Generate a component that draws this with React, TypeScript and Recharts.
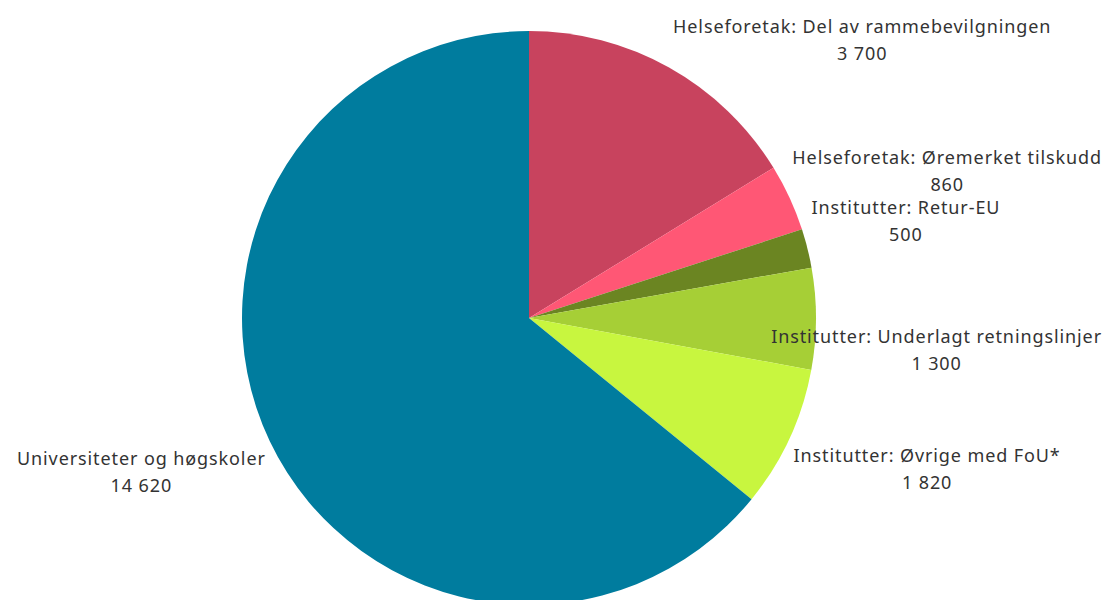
import React from 'react';
import { PieChart, Pie, Cell } from 'recharts';

const categories = [
  'Helseforetak: Del av rammebevilgningen',
  'Helseforetak: Øremerket tilskudd',
  'Institutter: Retur-EU',
  'Institutter: Underlagt retningslinjer',
  'Institutter: Øvrige med FoU*',
  'Universiteter og høgskoler',
];
const amounts = [3700, 860, 500, 1300, 1820, 14620];
const colors = ['#C8435E', '#FF5775', '#6B8522', '#A6CF36', '#C8F63F', '#007C9E'];

const data = categories.map((name, i) => ({ name, value: amounts[i] }));

const WIDTH = 1105;
const HEIGHT = 600;
const FONT = '18px "Noto Sans", sans-serif';
const SPACING = 0.9;
const RAD = Math.PI / 180;

let ctx: CanvasRenderingContext2D | null = null;
const measure = (text: string) => {
  if (!ctx) {
    ctx = document.createElement('canvas').getContext('2d');
  }
  if (!ctx) return text.length * 10;
  ctx.font = FONT;
  return ctx.measureText(text).width + text.length * SPACING;
};

const fmt = (v: number) => String(v).replace(/\B(?=(\d{3})+(?!\d))/g, ' ');

// Tableau-style labels: the text block starts at the arc point, outward
const SliceLabel = (props: any) => {
  const { cx, cy, midAngle, outerRadius, name, value } = props;
  const ax = cx + outerRadius * Math.cos(-midAngle * RAD);
  const ay = cy + outerRadius * Math.sin(-midAngle * RAD);
  const w = Math.max(measure(name), measure(fmt(value)));
  let mid;
  if (ax >= cx) {
    let left = ax + 4;
    if (left + w > WIDTH - 3) left = WIDTH - 3 - w;
    mid = left + w / 2;
  } else {
    let right = ax - 4;
    if (right - w < 3) right = 3 + w;
    mid = right - w / 2;
  }
  const y1 = ay < cy ? ay - 41 : ay + 17;
  const style = { font: FONT, letterSpacing: SPACING };
  return (
    <g>
      <text x={mid} y={y1} textAnchor="middle" dominantBaseline="central" fill="#333" style={style}>
        {name}
      </text>
      <text x={mid} y={y1 + 27} textAnchor="middle" dominantBaseline="central" fill="#333" style={style}>
        {fmt(value)}
      </text>
    </g>
  );
};

export default function App() {
  return (
    <div style={{ position: 'absolute', left: 0, top: 0, width: WIDTH, height: HEIGHT, background: '#fff' }}>
      <PieChart width={WIDTH} height={HEIGHT} margin={{ top: 0, right: 0, bottom: 0, left: 0 }}>
        <Pie
          data={data}
          dataKey="value"
          nameKey="name"
          cx={529}
          cy={318}
          outerRadius={287}
          startAngle={90}
          endAngle={-270}
          stroke="none"
          label={SliceLabel}
          labelLine={false}
          isAnimationActive={false}
        >
          {data.map((d, i) => (
            <Cell key={d.name} fill={colors[i]} />
          ))}
        </Pie>
      </PieChart>
    </div>
  );
}
